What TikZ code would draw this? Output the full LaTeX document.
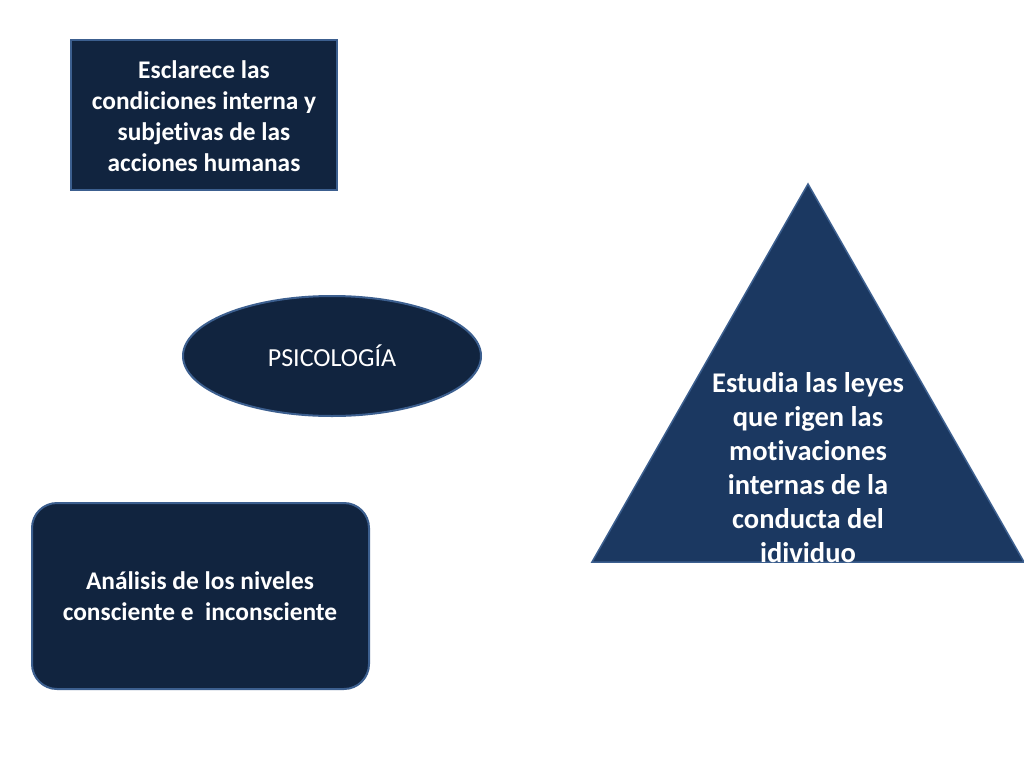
\documentclass[tikz,border=0pt]{standalone}
\usepackage{fontspec}
\setmainfont{Carlito}[Ligatures=NoCommon]
\usetikzlibrary{shapes.geometric}
\definecolor{navy}{HTML}{11243F}
\definecolor{trinavy}{HTML}{1B3861}
\definecolor{edgeblue}{HTML}{3C5F8F}
\tikzset{
  darkbox/.style={fill=navy, draw=edgeblue, line width=2pt, text=white, align=center},
  boldtext/.style={font=\bfseries\fontsize{25.4}{30.8}\selectfont},
}
\begin{document}
\begin{tikzpicture}[x=1pt,y=-1pt]
\useasboundingbox[fill=white] (0,0) rectangle (1024,768);
% top rectangle
\draw[darkbox] (71,40) rectangle (337,190);
\node[text=white, align=center, boldtext] (esclarece) at (204,116)
  {Esclarece las\\condiciones interna y\\subjetivas de las\\acciones humanas};
% ellipse
\node[ellipse, fill=navy, draw=edgeblue, line width=2pt, minimum width=298pt, minimum height=120pt,
  text=white, font=\fontsize{26}{30}\selectfont] (psico) at (332,356) {PSICOLOGÍA};
% rounded rectangle
\draw[darkbox, rounded corners=25pt] (32,503) rectangle (369,689);
\node[text=white, align=center, boldtext] (analisis) at (200,596)
  {Análisis de los niveles\\consciente e\ \ inconsciente};
% triangle
\draw[fill=trinavy, draw=edgeblue, line width=1.5pt] (808,184) -- (1024,562) -- (592,562) -- cycle;
\node[text=white, align=center, font=\bfseries\fontsize{28.5}{34}\selectfont] (estudia) at (808,468)
  {Estudia las leyes\\que rigen las\\motivaciones\\internas de la\\conducta del\\idividuo};
\end{tikzpicture}
\end{document}
